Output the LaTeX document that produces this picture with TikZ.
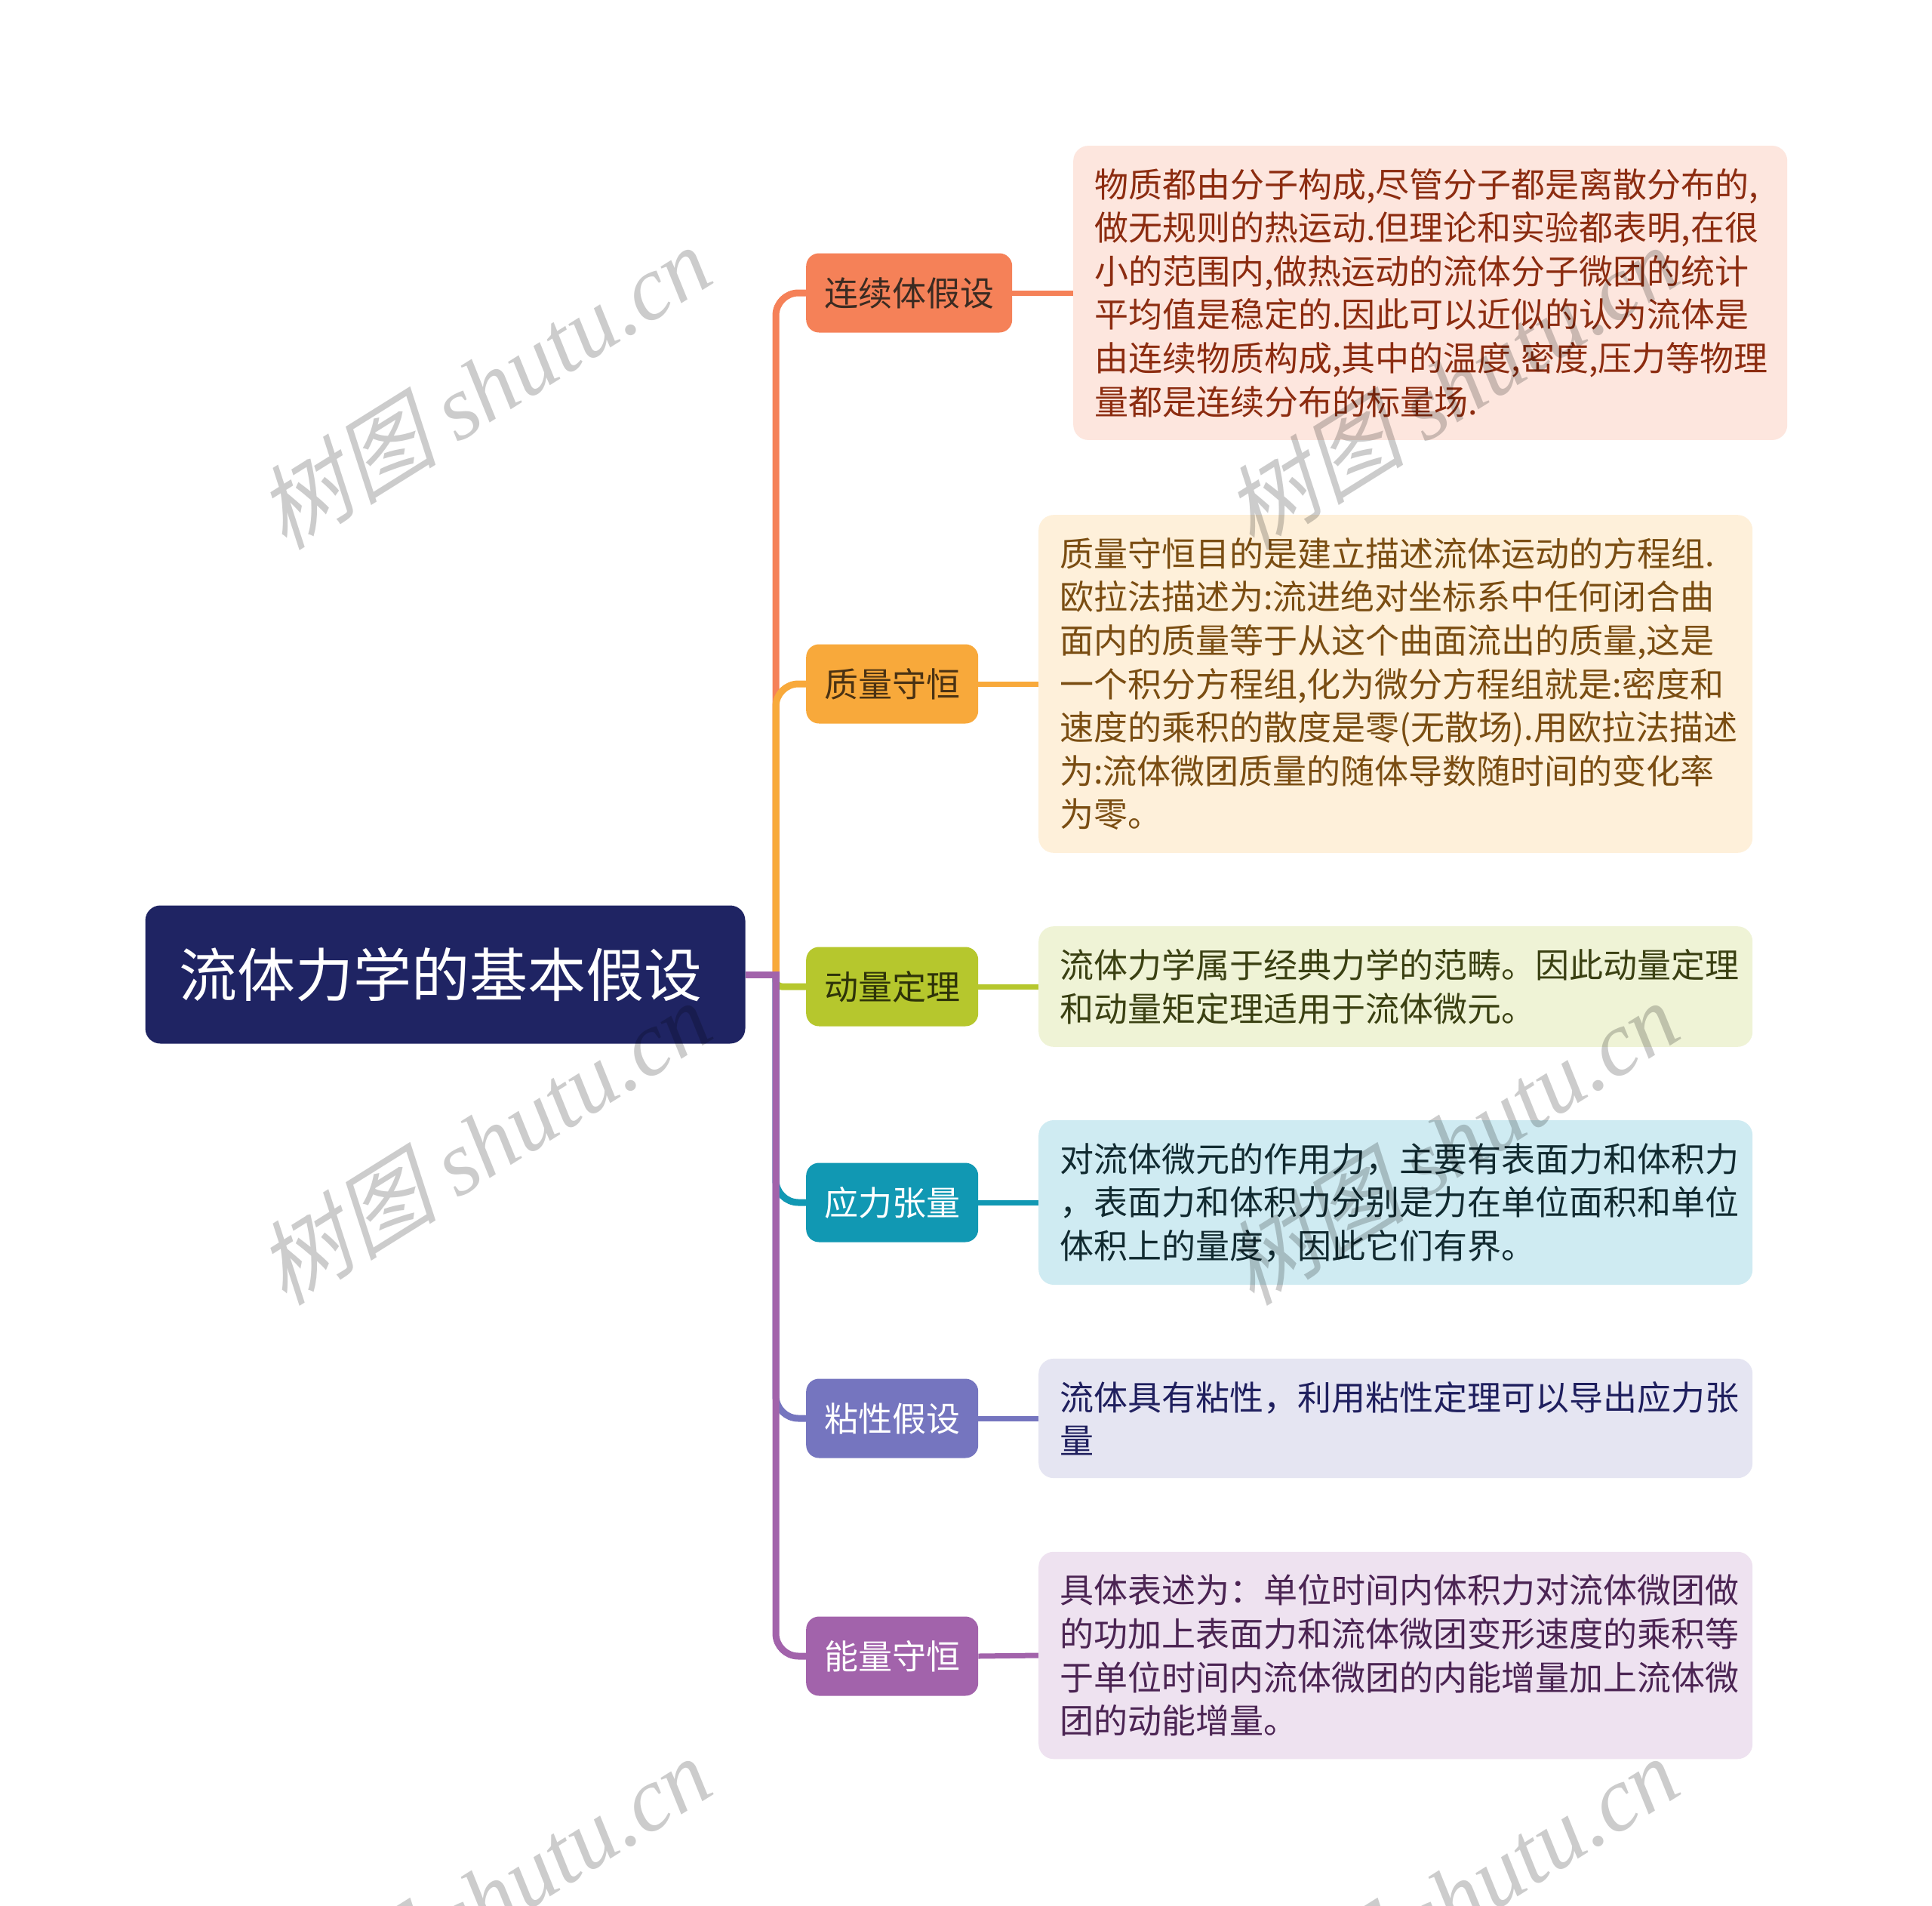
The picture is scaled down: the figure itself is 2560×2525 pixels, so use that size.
\documentclass[tikz,border=0pt]{standalone}
\usepackage{fontspec}
\setmainfont{Noto Sans CJK SC}
\newfontfamily\wmcjk{Noto Sans CJK SC}[FakeSlant=0.25]
\newfontfamily\wmlat{Liberation Serif}
\usetikzlibrary{backgrounds}
\definecolor{RootBlue}{HTML}{1F2463}
\definecolor{ContMain}{HTML}{F58158}
\definecolor{ContInk}{HTML}{3B2B22}
\definecolor{ContPale}{HTML}{FDE6DE}
\definecolor{ContText}{HTML}{8C2C10}
\definecolor{MassMain}{HTML}{F8A93B}
\definecolor{MassInk}{HTML}{4A3213}
\definecolor{MassPale}{HTML}{FEF0DA}
\definecolor{MassText}{HTML}{7A4D12}
\definecolor{MomMain}{HTML}{B6C72D}
\definecolor{MomInk}{HTML}{2E3309}
\definecolor{MomPale}{HTML}{EFF3D6}
\definecolor{MomText}{HTML}{3A4012}
\definecolor{StressMain}{HTML}{1198B3}
\definecolor{StressPale}{HTML}{CFEBF2}
\definecolor{StressText}{HTML}{112A30}
\definecolor{ViscMain}{HTML}{7575BF}
\definecolor{ViscPale}{HTML}{E5E5F2}
\definecolor{ViscText}{HTML}{1F1F5E}
\definecolor{EnergyMain}{HTML}{A263AB}
\definecolor{EnergyPale}{HTML}{EEE2F0}
\definecolor{EnergyText}{HTML}{4B2453}
\begin{document}
\begin{tikzpicture}[x=1pt,y=-1pt,
    rootbox/.style={fill=RootBlue,text=white,rounded corners=20pt,
      minimum width=795pt,minimum height=183pt,inner sep=0pt,
      font=\fontsize{77pt}{90pt}\selectfont},
    topicbox/.style 2 args={fill=#1,text=#2,rounded corners=17pt,
      minimum height=105pt,inner xsep=24pt,inner ysep=0pt,anchor=west,
      font=\fontsize{45pt}{54pt}\selectfont},
    notebox/.style 2 args={fill=#1,text=#2,rounded corners=20pt,
      text width=890pt,inner xsep=28pt,inner ysep=30pt,align=left,anchor=west,
      font=\fontsize{45pt}{57.6pt}\selectfont},
    branch/.style={line width=9pt},
    leafline/.style={line width=7pt},
    wm/.style={text=black,text opacity=0.2,rotate=32,
      font=\fontsize{121pt}{125pt}\selectfont}]
  \clip (0,0) rectangle (2560,2525);
  % root and main topics
  \node[rootbox] (root) at (590,1291) {\hspace*{-12pt}流体力学的基本假设};
  \coordinate (hub) at (1028,1291);
  \node[topicbox={ContMain}{ContInk}] (cont) at (1068,388) {连续体假设};
  \node[topicbox={MassMain}{MassInk}] (mass) at (1068,906) {质量守恒};
  \node[topicbox={MomMain}{MomInk}] (mom) at (1068,1307) {动量定理};
  \node[topicbox={StressMain}{white}] (stress) at (1068,1593) {应力张量};
  \node[topicbox={ViscMain}{white}] (visc) at (1068,1879) {粘性假设};
  \node[topicbox={EnergyMain}{white}] (energy) at (1068,2194) {能量守恒};
  % notes
  \node[notebox={ContPale}{ContText}] (cont-note) at (1422,388)
    {物质都由分子构成,尽管分子都是离散分布的,\\做无规则的热运动.但理论和实验都表明,在很\\小的范围内,做热运动的流体分子微团的统计\\平均值是稳定的.因此可以近似的认为流体是\\由连续物质构成,其中的温度,密度,压力等物理\\量都是连续分布的标量场.};
  \node[notebox={MassPale}{MassText}] (mass-note) at (1376,906)
    {质量守恒目的是建立描述流体运动的方程组.\\欧拉法描述为:流进绝对坐标系中任何闭合曲\\面内的质量等于从这个曲面流出的质量,这是\\一个积分方程组,化为微分方程组就是:密度和\\速度的乘积的散度是零(无散场).用欧拉法描述\\为:流体微团质量的随体导数随时间的变化率\\为零。};
  \node[notebox={MomPale}{MomText}] (mom-note) at (1376,1307)
    {流体力学属于经典力学的范畴。因此动量定理\\和动量矩定理适用于流体微元。};
  \node[notebox={StressPale}{StressText}] (stress-note) at (1376,1593)
    {对流体微元的作用力，主要有表面力和体积力\\，表面力和体积力分别是力在单位面积和单位\\体积上的量度，因此它们有界。};
  \node[notebox={ViscPale}{ViscText}] (visc-note) at (1376,1879)
    {流体具有粘性，利用粘性定理可以导出应力张\\量};
  \node[notebox={EnergyPale}{EnergyText}] (energy-note) at (1376,2193)
    {具体表述为：单位时间内体积力对流体微团做\\的功加上表面力和流体微团变形速度的乘积等\\于单位时间内流体微团的内能增量加上流体微\\团的动能增量。};
  % connectors
  \begin{scope}[on background layer]
    \fill[white] (0,0) rectangle (2560,2525);
    \foreach \t/\col/\r in {cont/ContMain/30,mass/MassMain/30,mom/MomMain/8,
        stress/StressMain/30,visc/ViscMain/30,energy/EnergyMain/30}{
      \draw[branch,\col,rounded corners=\r pt] (hub) |- (\t.west);
      \draw[leafline,\col] (\t.east) -- (\t-note.west);}
    \draw[branch,EnergyMain] (root.east) -- ([xshift=4.5pt]hub);
  \end{scope}
  % watermarks
  \foreach \wx/\wy [count=\i] in {640/512,1922/512,640/1513,1922/1513,640/2514,1922/2514}
    \node[wm] (wm\i) at (\wx,\wy) {{\wmcjk 树图} {\wmlat\itshape shutu.cn}};
\end{tikzpicture}
\end{document}
